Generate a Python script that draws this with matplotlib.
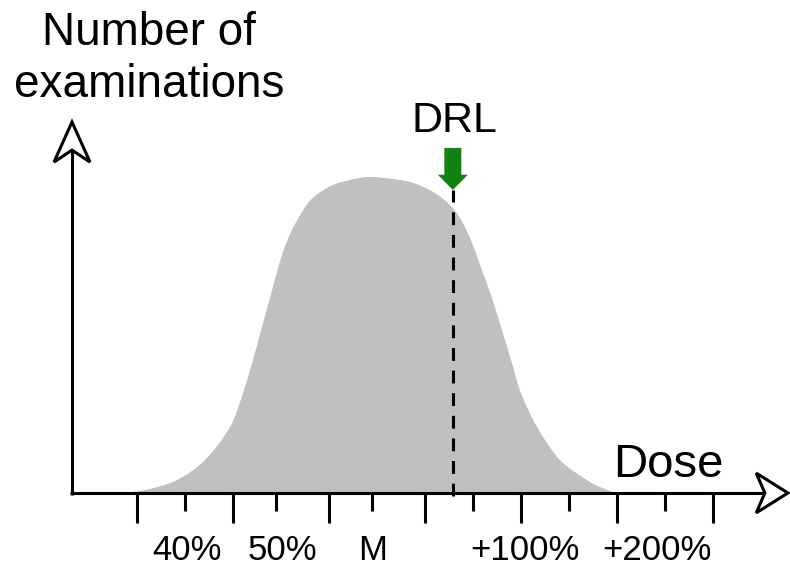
import matplotlib
matplotlib.use('Agg')
import matplotlib.pyplot as plt
import numpy as np
from matplotlib.path import Path
from matplotlib.patches import PathPatch, Polygon, FancyArrow

plt.rcParams['font.family'] = 'Liberation Sans'

# Outline of the dose distribution (dose in major-tick units, relative count)
curve_x = [-0.125, 0.135, 0.417, 0.708, 0.969, 1.104, 1.208, 1.302, 1.385,
           1.458, 1.521, 1.604, 1.719, 1.833, 2.042, 2.323, 2.448, 2.563,
           2.844, 3.083, 3.26, 3.365, 3.469, 3.573, 3.698, 3.792, 3.896,
           4.0, 4.167, 4.406, 4.688, 4.823, 4.979]
curve_y = [0.0, 0.013, 0.041, 0.104, 0.209, 0.316, 0.421, 0.525, 0.617,
           0.699, 0.763, 0.826, 0.889, 0.934, 0.975, 0.997, 1.0, 0.997,
           0.984, 0.953, 0.911, 0.87, 0.807, 0.722, 0.617, 0.525, 0.421,
           0.316, 0.209, 0.104, 0.041, 0.019, 0.0]

major_ticks = [0, 1, 2, 3, 4, 5, 6]
minor_ticks = [0.5, 1.45, 2.45, 3.5, 4.5, 5.5]
tick_labels = ['40%', '50%', 'M', '+100%', '+200%']
label_pos = [0.52, 1.51, 2.45, 4.04, 5.42]

drl_x = 3.29
drl_y = 0.959

LW = 2.2
GREEN = '#138213'


def smooth_path(xs, ys):
    # catmull-rom through the read points, closed along the baseline
    p = np.column_stack([xs, ys])
    p = np.vstack([p[0], p, p[-1]])
    verts = [tuple(p[1])]
    codes = [Path.MOVETO]
    for i in range(1, len(p) - 2):
        c1 = p[i] + (p[i + 1] - p[i - 1]) / 6
        c2 = p[i + 1] - (p[i + 2] - p[i]) / 6
        verts += [tuple(c1), tuple(c2), tuple(p[i + 1])]
        codes += [Path.CURVE4] * 3
    verts += [tuple(p[1]), tuple(p[1])]
    codes += [Path.LINETO, Path.CLOSEPOLY]
    return Path(verts, codes)


fig = plt.figure(figsize=(7.9, 5.7), dpi=100)
ax = fig.add_axes([0, 0, 1, 1])
ax.set_xlim(-1.427, 6.802)
ax.set_ylim(-0.2437, 1.560)
ax.axis('off')

ax.add_patch(PathPatch(smooth_path(curve_x, curve_y), facecolor='#c0c0c0',
                       edgecolor='none', zorder=1))

# axes lines
ax.plot([-0.677, -0.677], [-0.005, 1.085], color='black', lw=LW,
        solid_capstyle='butt', zorder=3)
ax.plot([-0.70, 6.54], [0, 0], color='black', lw=LW,
        solid_capstyle='butt', zorder=3)

# open arrowheads
ax.add_patch(Polygon([(-0.677, 1.174), (-0.865, 1.047), (-0.677, 1.085),
                      (-0.489, 1.047)], closed=True, facecolor='white',
                     edgecolor='black', lw=LW, joinstyle='miter', zorder=4))
ax.add_patch(Polygon([(6.78, 0), (6.45, 0.063), (6.54, 0), (6.45, -0.063)],
                     closed=True, facecolor='white', edgecolor='black',
                     lw=LW, joinstyle='miter', zorder=4))

# ticks
for t in major_ticks:
    ax.plot([t, t], [0, -0.095], color='black', lw=LW,
            solid_capstyle='butt', zorder=3)
for t in minor_ticks:
    ax.plot([t, t], [0, -0.058], color='black', lw=LW,
            solid_capstyle='butt', zorder=3)
for lab, x in zip(tick_labels, label_pos):
    ax.text(x, -0.212, lab, ha='center', va='baseline', fontsize=25)

# DRL marker
ax.plot([drl_x, drl_x], [-0.008, drl_y], color='black', lw=LW,
        dashes=(4.2, 3.2), zorder=3)
ax.add_patch(FancyArrow(drl_x, 1.092, 0, drl_y - 1.092, width=0.177,
                        head_width=0.3125, head_length=0.048,
                        length_includes_head=True, color=GREEN, lw=0,
                        zorder=4))
ax.text(drl_x + 0.02, 1.142, 'DRL', ha='center', va='baseline', fontsize=31)

ax.text(5.53, 0.051, 'Dose', ha='center', va='baseline', fontsize=34)
ax.text(0.125, 1.418, 'Number of', ha='center', va='baseline', fontsize=33)
ax.text(0.125, 1.253, 'examinations', ha='center', va='baseline', fontsize=33)

fig.savefig('out.png', dpi=100)
